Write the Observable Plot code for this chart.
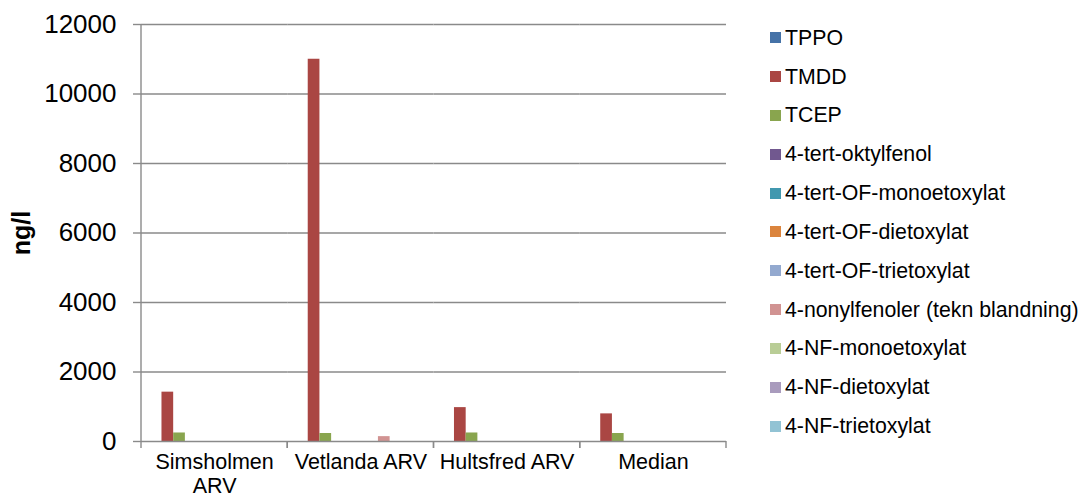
<!DOCTYPE html>
<html>
<head>
<meta charset="utf-8">
<script src="https://cdn.jsdelivr.net/npm/d3@7"></script>
<script src="https://cdn.jsdelivr.net/npm/@observablehq/plot@0.6"></script>
<style>
  html, body { margin: 0; padding: 0; background: #fff; }
  #wrap { position: relative; width: 1078px; height: 499px; font-family: "Liberation Sans", Arial, sans-serif; overflow: hidden; }
  #legend { position: absolute; left: 770px; top: 0; }
  .row { position: absolute; left: 0; height: 24px; line-height: 24px; white-space: nowrap; font-size: 21.3px; color: #000; }
  .sw { position: absolute; left: 0; top: 6.5px; width: 11px; height: 11px; }
  .lb { position: absolute; left: 15px; top: 0; }
</style>
</head>
<body>
<div id="wrap"><div id="chart"></div><div id="legend"></div></div>
<script>
const categories = ["Simsholmen ARV", "Vetlanda ARV", "Hultsfred ARV", "Median"];
const categoryLabels = ["Simsholmen\nARV", "Vetlanda ARV", "Hultsfred ARV", "Median"];
const series = ["TPPO", "TMDD", "TCEP", "4-tert-oktylfenol", "4-tert-OF-monoetoxylat",
  "4-tert-OF-dietoxylat", "4-tert-OF-trietoxylat", "4-nonylfenoler (tekn blandning)",
  "4-NF-monoetoxylat", "4-NF-dietoxylat", "4-NF-trietoxylat"];
const colors = ["#4572A7", "#AA4643", "#89A54E", "#71588F", "#4198AF", "#DB843D",
  "#93A9CF", "#D19392", "#B9CD96", "#A99BBD", "#92C3D4"];
// values per series, in category order
const TPPO = [0, 0, 0, 0];
const TMDD = [1420, 11000, 975, 795];
const TCEP = [245, 230, 245, 230];
const oktylfenol = [0, 0, 0, 0];
const OFmono = [0, 0, 0, 0];
const OFdi = [0, 0, 0, 0];
const OFtri = [0, 0, 0, 0];
const nonylfenoler = [0, 140, 0, 0];
const NFmono = [0, 0, 0, 0];
const NFdi = [0, 0, 0, 0];
const NFtri = [0, 0, 0, 0];
const yTicks = [0, 2000, 4000, 6000, 8000, 10000, 12000];
const yLabel = "ng/l";

const seriesValues = [TPPO, TMDD, TCEP, oktylfenol, OFmono, OFdi, OFtri, nonylfenoler, NFmono, NFdi, NFtri];
const rows = [];
categories.forEach((c, ci) => series.forEach((s, si) => rows.push({cat: c, series: s, value: seriesValues[si][ci]})));

const axisColor = "#8a8a8a";

const separators = Plot.ruleX(categories, {
  fx: d => d, x: null,
  render: (index, scales, values, dims) => {
    const g = d3.create("svg:g").attr("stroke", axisColor).attr("stroke-width", 1.4);
    const y0 = dims.height - dims.marginBottom;
    const left = dims.marginLeft, right = dims.width - dims.marginRight;
    for (const xx of [left, right]) {
      g.append("line").attr("x1", xx).attr("x2", xx).attr("y1", y0).attr("y2", y0 + 7);
    }
    if (index.length && categories[index[0]] === categories[0]) {
      g.append("line").attr("x1", left).attr("x2", left).attr("y1", dims.marginTop).attr("y2", y0);
    }
    return g.node();
  }
});

const chart = Plot.plot({
  width: 1078,
  height: 499,
  marginLeft: 141,
  marginRight: 352,
  marginTop: 24,
  marginBottom: 58,
  style: {fontFamily: "'Liberation Sans', Arial, sans-serif", color: "#000", background: "#fff", overflow: "visible"},
  fx: {domain: categories, padding: 0, axis: null, round: false},
  x: {domain: series, paddingInner: 0, paddingOuter: 0.75, axis: null, round: false},
  y: {domain: [0, 12000], axis: null},
  color: {domain: series, range: colors},
  marks: [
    Plot.ruleY(yTicks.filter(d => d > 0), {stroke: axisColor, strokeWidth: 1.4}),
    Plot.barY(rows, {fx: "cat", x: "series", y: "value", fill: "series", inset: 0}),
    Plot.ruleY([0], {stroke: axisColor, strokeWidth: 1.4}),
    separators,
    Plot.axisY({ticks: yTicks, tickSize: 8, tickPadding: 17, fontSize: 26, stroke: axisColor,
      strokeWidth: 1.4, tickFormat: d3.format("d"), label: null, fill: "#000"}),
    Plot.axisFx({anchor: "bottom", tickSize: 0, tickPadding: 11, fontSize: 21.5, label: null,
      lineHeight: 1.1, fill: "#000",
      tickFormat: d => categoryLabels[categories.indexOf(d)]}),
    Plot.text([yLabel], {fx: () => categories[0], text: d => d, frameAnchor: "left", rotate: -90,
      textAnchor: "middle", lineAnchor: "middle", dx: -120, fontSize: 25, fontWeight: "bold", fill: "#000"})
  ]
});
document.getElementById("chart").appendChild(chart);

const legend = document.getElementById("legend");
series.forEach((s, i) => {
  const row = document.createElement("div");
  row.className = "row";
  row.style.top = (37.7 + i * 38.83 - 12) + "px";
  const sw = document.createElement("div");
  sw.className = "sw";
  sw.style.background = colors[i];
  const lb = document.createElement("div");
  lb.className = "lb";
  lb.textContent = s;
  row.appendChild(sw); row.appendChild(lb);
  legend.appendChild(row);
});
</script>
</body>
</html>
